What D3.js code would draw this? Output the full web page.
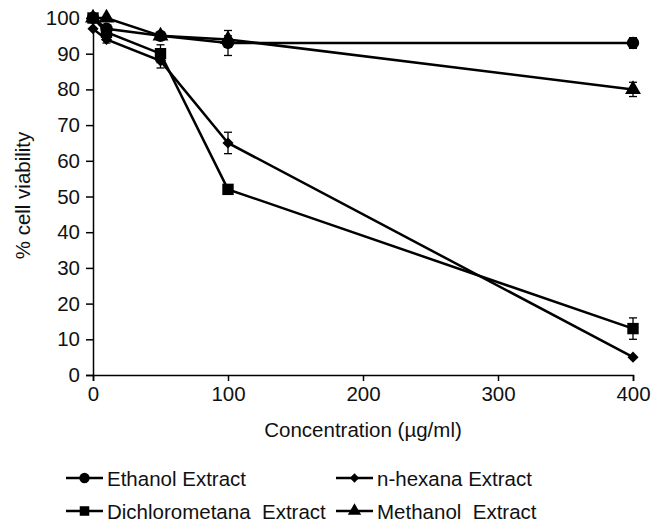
<!DOCTYPE html>
<html>
<head>
<meta charset="utf-8">
<script src="https://cdn.jsdelivr.net/npm/d3@7"></script>
<style>
  body { margin: 0; background: #fff; }
  svg { font-family: 'Liberation Sans', Arial, sans-serif; }
</style>
</head>
<body>
<div id="chart"></div>
<script>
// Data
const concentrations = [0, 10, 50, 100, 400];

const ethanol = [100, 97, 95, 93, 93];
const ethanolErr = [0.5, 1, 0.5, 3.5, 1.5];

const dichlorometana = [100, 96, 90, 52, 13];
const dichlorometanaErr = [0.5, 1, 2.5, 0.5, 3];

const hexana = [97, 94, 88, 65, 5];
const hexanaErr = [0.5, 1, 2, 3, 0.5];

const methanol = [100, 100, 95, 94, 80];
const methanolErr = [0.5, 0.5, 0.5, 1, 2];

const xTicks = [0, 100, 200, 300, 400];
const yTicks = [0, 10, 20, 30, 40, 50, 60, 70, 80, 90, 100];

const seriesNames = ['Ethanol Extract', 'n-hexana Extract', 'Dichlorometana  Extract', 'Methanol  Extract'];

// rotate = 45 turns the square into the wide diamond used for n-hexana
const series = [
  {name: seriesNames[0], values: ethanol, err: ethanolErr, symbol: d3.symbolCircle, size: 120, rotate: 0},
  {name: seriesNames[2], values: dichlorometana, err: dichlorometanaErr, symbol: d3.symbolSquare, size: 130, rotate: 0},
  {name: seriesNames[1], values: hexana, err: hexanaErr, symbol: d3.symbolSquare, size: 62, rotate: 45},
  {name: seriesNames[3], values: methanol, err: methanolErr, symbol: d3.symbolTriangle, size: 110, rotate: 0}
];

const FONT = 20.5;

const W = 654, H = 525;
const margins = {top: 18, right: 21, bottom: 150, left: 93};
const width = W - margins.left - margins.right;
const height = H - margins.top - margins.bottom;

const svg = d3.select('#chart').append('svg')
  .attr('width', W)
  .attr('height', H);

const g = svg.append('g')
  .attr('transform', `translate(${margins.left}, ${margins.top})`);

const x = d3.scaleLinear().domain([0, 400]).range([0, width]);
const y = d3.scaleLinear().domain([0, 100]).range([height, 0]);

// Axes
const xAxis = d3.axisBottom(x).tickValues(xTicks).tickSize(6).tickPadding(5);
const yAxis = d3.axisLeft(y).tickValues(yTicks).tickSize(7).tickPadding(6);

const gx = g.append('g')
  .attr('transform', `translate(0, ${height})`)
  .call(xAxis);
const gy = g.append('g').call(yAxis);

[gx, gy].forEach(a => {
  a.select('.domain').attr('stroke', '#000').attr('stroke-width', 1.5);
  a.selectAll('.tick line').attr('stroke', '#000').attr('stroke-width', 1.5);
  a.selectAll('.tick text')
    .attr('fill', '#111')
    .attr('font-size', FONT + 'px')
    .attr('font-family', "'Liberation Sans', Arial, sans-serif");
});

g.append('text')
  .attr('x', width / 2)
  .attr('y', height + 62)
  .attr('text-anchor', 'middle')
  .attr('font-size', FONT + 'px')
  .attr('fill', '#111')
  .text('Concentration (µg/ml)');

g.append('text')
  .attr('transform', 'rotate(-90)')
  .attr('x', -height / 2 + 1)
  .attr('y', -63)
  .attr('text-anchor', 'middle')
  .attr('font-size', FONT + 'px')
  .attr('fill', '#111')
  .text('% cell viability');

// Lines
const line = d3.line()
  .x((d, i) => x(concentrations[i]))
  .y(d => y(d));

const plot = g.append('g');

series.forEach(s => {
  plot.append('path')
    .datum(s.values)
    .attr('fill', 'none')
    .attr('stroke', '#000')
    .attr('stroke-width', 2.5)
    .attr('d', line);
});

// Error bars
series.forEach(s => {
  const eb = plot.append('g');
  s.values.forEach((v, i) => {
    const cx = x(concentrations[i]);
    const e = s.err[i];
    if (e < 1) return;
    eb.append('line')
      .attr('x1', cx).attr('x2', cx)
      .attr('y1', y(v - e)).attr('y2', y(v + e))
      .attr('stroke', '#000').attr('stroke-width', 1.3);
    [v - e, v + e].forEach(yy => {
      eb.append('line')
        .attr('x1', cx - 4).attr('x2', cx + 4)
        .attr('y1', y(yy)).attr('y2', y(yy))
        .attr('stroke', '#000').attr('stroke-width', 1.3);
    });
  });
});

// Markers
series.forEach(s => {
  const sym = d3.symbol().type(s.symbol).size(s.size);
  plot.selectAll(null)
    .data(s.values)
    .enter()
    .append('path')
    .attr('d', sym)
    .attr('transform', (d, i) => `translate(${x(concentrations[i])}, ${y(d)}) rotate(${s.rotate})`)
    .attr('fill', '#000');
});

// Legend
const legendItems = [
  {name: seriesNames[0], s: series[0], x: 66, y: 478},
  {name: seriesNames[1], s: series[2], x: 336, y: 478},
  {name: seriesNames[2], s: series[1], x: 66, y: 511},
  {name: seriesNames[3], s: series[3], x: 336, y: 511}
];

const legend = svg.append('g');
legendItems.forEach(it => {
  const lg = legend.append('g').attr('transform', `translate(${it.x}, ${it.y})`);
  lg.append('line')
    .attr('x1', 0).attr('x2', 37)
    .attr('y1', 0).attr('y2', 0)
    .attr('stroke', '#000').attr('stroke-width', 2.5);
  lg.append('path')
    .attr('d', d3.symbol().type(it.s.symbol).size(it.s.size * 0.7))
    .attr('transform', `translate(18.5, 0) rotate(${it.s.rotate})`)
    .attr('fill', '#000');
  lg.append('text')
    .attr('x', 41)
    .attr('y', 7.5)
    .attr('font-size', FONT + 'px')
    .attr('fill', '#111')
    .style('white-space', 'pre')
    .text(it.name);
});
</script>
</body>
</html>
